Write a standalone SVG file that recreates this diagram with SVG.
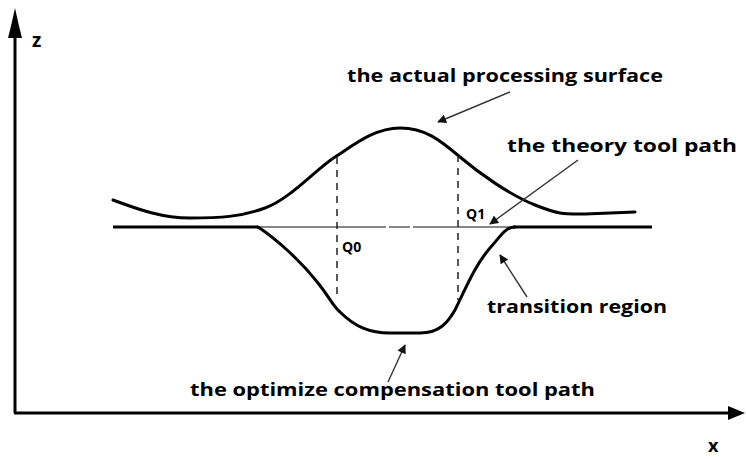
<svg xmlns="http://www.w3.org/2000/svg" width="746" height="459" viewBox="0 0 746 459">
<style>
.lbl{font-family:"Open Sans","Liberation Sans",sans-serif;font-weight:bold;fill:#000;}
.curve{fill:none;stroke:#000;stroke-width:3;stroke-linejoin:round;stroke-linecap:round;}
.ptr{stroke:#333;stroke-width:1.4;fill:none;}
.dash{stroke:#222;stroke-width:1.5;stroke-dasharray:7,6;fill:none;}
</style>
<defs>
<marker id="ah" viewBox="0 0 10 10" refX="9" refY="5" markerWidth="11" markerHeight="9" markerUnits="userSpaceOnUse" orient="auto">
<path d="M0,0 L10,5 L0,10 Z" fill="#111"/>
</marker>
</defs>
<g id="axes">
<line x1="15" y1="413" x2="15" y2="22" stroke="#000" stroke-width="3"/>
<path d="M15,8 L19,26 L22,38 L8,38 L11,26 Z" fill="#000"/>
<line x1="14" y1="413" x2="730" y2="413" stroke="#000" stroke-width="3"/>
<path d="M745,413 L728,406 L728,420 Z" fill="#000"/>
<text class="lbl" x="32" y="47" font-size="19">z</text>
<text class="lbl" x="708" y="452" font-size="18">x</text>
</g>
<g id="actual-surface">
<path class="curve" d="M113,200 C135,208 160,218 190,218 S240,217 265,208 S315,170 335,157 S375,128 400,128 S440,140 460,157 S510,195 535,205 S565,214 585,214 L635,212"/>
</g>
<g id="theory-path">
<line x1="113" y1="227" x2="258" y2="227" stroke="#000" stroke-width="3"/>
<line x1="258" y1="227" x2="386" y2="227" stroke="#888" stroke-width="2"/>
<line x1="389" y1="227" x2="410" y2="227" stroke="#888" stroke-width="2"/>
<line x1="413" y1="227" x2="515" y2="227" stroke="#888" stroke-width="2"/>
<line x1="513" y1="227" x2="652" y2="227" stroke="#000" stroke-width="3"/>
</g>
<g id="compensation-path">
<path class="curve" d="M258,227 C275,238 300,260 318,283 C330,298 333,306 340,312 C355,327 370,333 390,333 L420,333 C440,333 448,322 455,310 C465,290 475,265 490,248 C500,237 505,227 515,227"/>
</g>
<g id="dashes">
<line class="dash" x1="337" y1="157" x2="337" y2="300"/>
<line class="dash" x1="458" y1="155" x2="458" y2="300"/>
</g>
<g id="labels">
<text class="lbl" x="347" y="82" font-size="17" textLength="316" lengthAdjust="spacingAndGlyphs">the actual processing surface</text>
<text class="lbl" x="507" y="152" font-size="17" textLength="230" lengthAdjust="spacingAndGlyphs">the theory tool path</text>
<text class="lbl" x="466" y="219" font-size="14">Q1</text>
<text class="lbl" x="342" y="252" font-size="14">Q0</text>
<text class="lbl" x="487" y="313" font-size="17" textLength="180" lengthAdjust="spacingAndGlyphs">transition region</text>
<text class="lbl" x="190" y="396" font-size="17" textLength="405" lengthAdjust="spacingAndGlyphs">the optimize compensation tool path</text>
</g>
<g id="connectors">
<line class="ptr" x1="510" y1="92" x2="438" y2="122" marker-end="url(#ah)"/>
<line class="ptr" x1="578" y1="160" x2="490" y2="224" marker-end="url(#ah)"/>
<line class="ptr" x1="527" y1="297" x2="500" y2="255" marker-end="url(#ah)"/>
<line class="ptr" x1="388" y1="382" x2="405" y2="345" marker-end="url(#ah)"/>
</g>
</svg>
